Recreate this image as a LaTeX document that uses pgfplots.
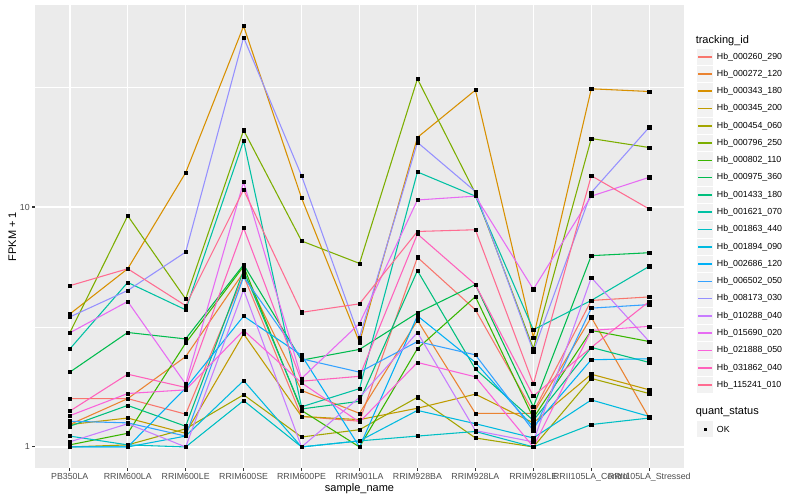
\documentclass[border=0pt]{standalone}
\usepackage{pgfplots}
\pgfplotsset{compat=1.18}
\usepackage{pgfplotstable}
\usepackage{fontspec}
\setmainfont{Liberation Sans}

\definecolor{panelgray}{HTML}{EBEBEB}
\definecolor{keygray}{HTML}{F2F2F2}
\definecolor{tickgray}{HTML}{333333}
\definecolor{labelgray}{HTML}{4D4D4D}
% ggplot hue palette, 20 levels
\definecolor{c1}{HTML}{F8766D}
\definecolor{c2}{HTML}{EA8331}
\definecolor{c3}{HTML}{D89000}
\definecolor{c4}{HTML}{C09B00}
\definecolor{c5}{HTML}{A3A500}
\definecolor{c6}{HTML}{7CAE00}
\definecolor{c7}{HTML}{39B600}
\definecolor{c8}{HTML}{00BB4E}
\definecolor{c9}{HTML}{00BF7D}
\definecolor{c10}{HTML}{00C1A3}
\definecolor{c11}{HTML}{00BFC4}
\definecolor{c12}{HTML}{00BAE0}
\definecolor{c13}{HTML}{00B0F6}
\definecolor{c14}{HTML}{35A2FF}
\definecolor{c15}{HTML}{9590FF}
\definecolor{c16}{HTML}{C77CFF}
\definecolor{c17}{HTML}{E76BF3}
\definecolor{c18}{HTML}{FA62DB}
\definecolor{c19}{HTML}{FF62BC}
\definecolor{c20}{HTML}{FF6C91}

% FPKM + 1, one row per sample, one column per tracking_id
\pgfplotstableread{
x  s1   s2   s3   s4   s5   s6   s7   s8   s9   s10  s11  s12  s13  s14  s15  s16  s17  s18  s19  s20
1  1.59 1.24 3.58 1.24 1.00 2.99 1.02 2.05 1.22 2.56 1.11 1.00 1.00 1.28 3.48 1.05 2.99 1.35 1.41 4.70
2  1.59 1.59 5.53 1.32 1.02 9.20 1.14 3.00 1.49 4.85 1.02 1.00 1.00 1.26 4.49 1.25 4.04 1.67 2.01 5.53
3  1.37 2.38 13.9 1.14 1.19 4.14 2.71 2.82 1.22 3.73 1.00 1.11 1.76 1.11 6.49 1.00 1.83 1.73 1.77 3.88
4  5.17 5.34 56.8 2.96 1.65 20.9 5.66 5.75 5.44 18.9 1.56 1.89 3.51 5.11 50.9 4.52 12.7 3.06 8.18 11.8
5  1.34 1.72 10.9 1.34 1.10 7.22 1.42 2.30 1.44 1.47 1.00 1.00 2.41 2.33 13.5 1.00 1.93 1.85 1.88 3.64
6  1.28 1.38 2.73 1.30 1.18 5.82 1.00 2.55 1.55 1.75 1.06 1.06 1.00 2.05 2.86 1.61 3.27 1.27 1.97 3.95
7  6.17 3.37 19.5 1.45 1.61 34.2 2.57 3.62 5.43 14.0 1.11 1.42 3.52 2.75 18.6 3.00 10.7 2.25 7.72 7.91
8  3.73 1.38 30.7 1.66 1.09 11.4 4.23 4.75 2.11 11.1 1.16 1.25 2.25 2.42 11.6 1.17 11.1 1.96 4.75 8.04
9  1.40 1.38 2.86 1.26 1.00 2.57 1.32 1.47 1.29 3.08 1.00 1.09 1.21 1.17 2.50 1.05 4.54 1.00 1.63 1.83
10 4.08 3.47 31.1 2.01 1.93 19.3 3.06 6.27 2.60 4.08 1.24 1.57 2.31 3.79 11.5 5.08 11.1 3.06 2.60 13.5
11 4.22 1.32 30.3 1.73 1.67 17.7 2.75 6.45 2.25 5.66 1.32 1.34 2.33 3.92 21.5 2.75 13.3 3.18 4.04 9.81
}\fpkm

\begin{document}
\begin{tikzpicture}
\begin{scope}[x=0.75pt,y=-0.75pt]
  \useasboundingbox (0,0) rectangle (800,500);
  \fill[white] (0,0) rectangle (800,500);
\end{scope}

\begin{axis}[
  at={(26.25pt,-3.75pt)}, anchor=north west,
  scale only axis, width=486.75pt, height=347.25pt,
  ymode=log,
  xmin=0.4, xmax=11.6, ymin=0.8171, ymax=69.5,
  axis background/.style={fill=panelgray},
  axis line style={draw=none},
  xtick={1,...,11},
  xticklabels={PB350LA,RRIM600LA,RRIM600LE,RRIM600SE,RRIM600PE,RRIM901LA,RRIM928BA,RRIM928LA,RRIM928LE,RRII105LA\_Control,RRII105LA\_Stressed},
  ytick={1,10}, yticklabels={1,10},
  minor ytick={3.16228,31.6228},
  grid=both,
  major grid style={white, line width=1.1pt},
  minor grid style={white, line width=0.55pt},
  tick align=outside,
  major tick length=2.06pt, minor tick length=0pt,
  tick style={color=tickgray, line width=0.8pt},
  xtick pos=bottom, ytick pos=left,
  ticklabel style={font=\fontsize{6.6}{7.5}\selectfont, text=labelgray},
  xticklabel style={inner sep=0pt, anchor=north, yshift=-1.65pt},
  yticklabel style={inner sep=0pt, anchor=east, xshift=-1.65pt},
]
\pgfplotsinvokeforeach{1,...,20}{
  \addplot[draw=c#1, line width=0.8pt, mark=none] table[x=x, y=s#1] {\fpkm};
}
\pgfplotsinvokeforeach{1,...,20}{
  \addplot[only marks, mark=square*, mark size=1.2pt, black] table[x=x, y=s#1] {\fpkm};
}
\end{axis}

\begin{scope}[x=0.75pt,y=-0.75pt]
  % axis titles
  \node[font=\fontsize{8.25}{10}\selectfont] at (359.5,488.5) {sample\_name};
  \node[rotate=90, font=\fontsize{8.25}{10}\selectfont] at (12.3,236.5) {FPKM + 1};
  % colour legend
  \node[anchor=west, inner sep=0pt, font=\fontsize{8.25}{10}\selectfont] at (695.5,40.7) {tracking\_id};
  \foreach \i/\name in {1/Hb\_000260\_290,2/Hb\_000272\_120,3/Hb\_000343\_180,4/Hb\_000345\_200,
      5/Hb\_000454\_060,6/Hb\_000796\_250,7/Hb\_000802\_110,8/Hb\_000975\_360,9/Hb\_001433\_180,
      10/Hb\_001621\_070,11/Hb\_001863\_440,12/Hb\_001894\_090,13/Hb\_002686\_120,14/Hb\_006502\_050,
      15/Hb\_008173\_030,16/Hb\_010288\_040,17/Hb\_015690\_020,18/Hb\_021888\_050,19/Hb\_031862\_040,
      20/Hb\_115241\_010}{
    \pgfmathsetmacro\yy{56.7+17.28*(\i-1)}
    \fill[keygray, draw=white, line width=0.75pt] (696.4,\yy-8.64) rectangle (713.7,\yy+8.64);
    \draw[color=c\i, line width=1.2pt] (698.2,\yy) -- (711.9,\yy);
    \node[anchor=west, inner sep=0pt, font=\fontsize{6.6}{7.5}\selectfont] at (716.7,\yy) {\name};
  }
  % shape legend
  \node[anchor=west, inner sep=0pt, font=\fontsize{8.25}{10}\selectfont] at (695.5,412.3) {quant\_status};
  \fill[keygray, draw=white, line width=0.75pt] (696.4,429.3-8.64) rectangle (713.7,429.3+8.64);
  \fill[black] (703.5,427.5) rectangle (707.1,431.1);
  \node[anchor=west, inner sep=0pt, font=\fontsize{6.6}{7.5}\selectfont] at (716.7,429.3) {OK};
\end{scope}
\end{tikzpicture}
\end{document}
